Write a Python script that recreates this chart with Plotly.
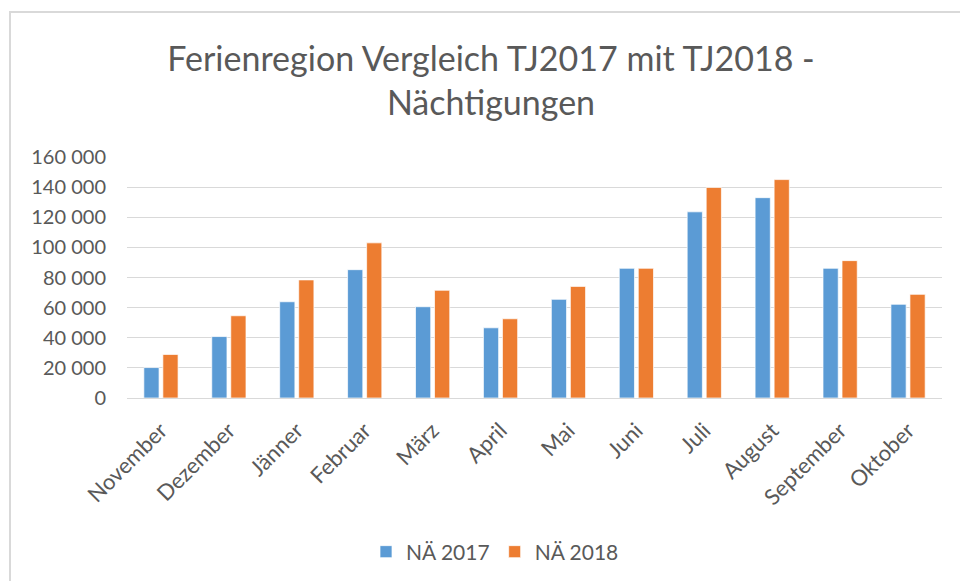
import plotly.graph_objects as go

months = ["November", "Dezember", "Jänner", "Februar", "März", "April",
          "Mai", "Juni", "Juli", "August", "September", "Oktober"]
na_2017 = [20200, 40800, 63900, 85200, 60600, 46600, 65500, 86100, 123600, 133000, 86100, 62200]
na_2018 = [28900, 54600, 78400, 103000, 71500, 52600, 74100, 86100, 139800, 145000, 91200, 68800]
y_ticks = [0, 20000, 40000, 60000, 80000, 100000, 120000, 140000, 160000]

FONT = "Lato"
GREY = "#595959"

W, H = 960, 581
L, R, T, B = 127, 942, 157, 398
pw, ph = R - L, B - T

def px(x):
    return (x - L) / pw

def py(y):
    return (B - y) / ph

fig = go.Figure()
fig.add_trace(go.Bar(x=months, y=na_2017, name="NÄ 2017",
                     marker=dict(color="#5B9BD5", line=dict(color="#ffffff", width=0.7))))
fig.add_trace(go.Bar(x=months, y=na_2018, name="NÄ 2018",
                     marker=dict(color="#ED7D31", line=dict(color="#ffffff", width=0.7))))

fig.update_layout(
    width=W, height=H,
    margin=dict(l=L, r=W - R, t=T, b=H - B, autoexpand=False),
    paper_bgcolor="white", plot_bgcolor="white",
    separators=". ",
    barmode="group", bargap=0.44, bargroupgap=0.2,
    font=dict(family=FONT, color=GREY),
    title=dict(text="Ferienregion Vergleich TJ2017 mit TJ2018 -<br>Nächtigungen",
               x=491 / W, xanchor="center", y=1 - 71 / H, yanchor="middle",
               font=dict(family=FONT, size=34, color=GREY)),
    xaxis=dict(tickangle=-45, tickfont=dict(size=22, color=GREY), showgrid=False,
               showline=True, linecolor="#d9d9d9", linewidth=1, ticks="",
               ticklabelstandoff=10),
    yaxis=dict(range=[0, 160000], tickvals=y_ticks, tickformat=",d",
               tickfont=dict(size=20, color=GREY), showgrid=True, gridcolor="#d9d9d9",
               gridwidth=1, zeroline=False, showline=False, ticks="", ticklabelstandoff=20),
    legend=dict(orientation="h", x=px(495), xanchor="center", y=py(552), yanchor="middle",
                font=dict(size=21, color=GREY), itemwidth=30, traceorder="normal"),
    showlegend=True,
)

fig.add_shape(type="rect", xref="paper", yref="paper",
              x0=px(10), x1=px(975), y0=py(600), y1=py(12),
              line=dict(color="#d9d9d9", width=2), layer="below")

fig.write_html("out.html", config={"displayModeBar": False},
               post_script="document.body.style.margin='0';document.body.style.overflow='hidden';")
